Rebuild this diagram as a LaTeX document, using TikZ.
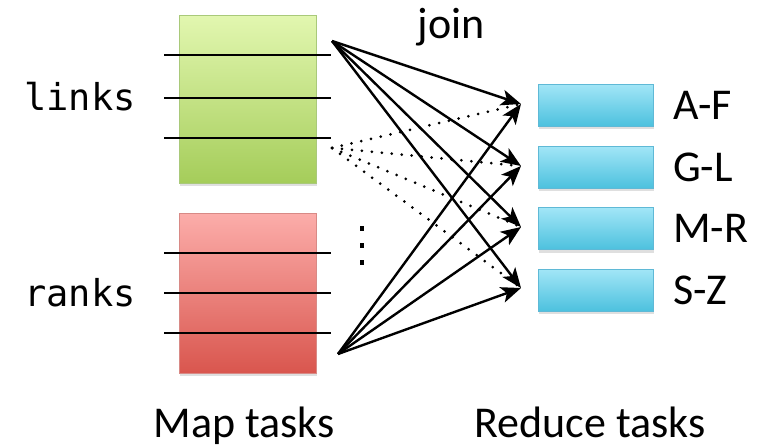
\documentclass[tikz,border=0pt]{standalone}
\usepackage{fontspec}
\setmainfont{Carlito}
\newfontfamily\monof{DejaVu Sans Mono}
\usetikzlibrary{arrows.meta,shadows}
\begin{document}
\begin{tikzpicture}[x=1pt,y=-1pt,
  lbl/.style={font=\fontsize{44}{52}\selectfont, inner sep=0pt, text=black},
  mono/.style={font=\monof\fontsize{37}{44}\selectfont, inner sep=0pt},
  mapbox/.style={draw, line width=0.8pt, minimum width=137pt, inner sep=0pt,
    drop shadow={shadow xshift=1pt, shadow yshift=-3pt, opacity=0.25}},
  redbox/.style={draw, line width=0.8pt, minimum width=115pt, minimum height=42pt, inner sep=0pt,
    drop shadow={shadow xshift=1pt, shadow yshift=-3pt, opacity=0.25}},
  sep/.style={line width=2.6pt, black},
  arr/.style={line width=2.4pt, -{Stealth[length=20pt, width=16pt, inset=5pt]}},
  dots/.style={line width=3pt, line cap=round, dash pattern=on 0pt off 10pt}
]
\useasboundingbox (0,0) rectangle (757,447);
\definecolor{gtop}{HTML}{E2F7B0}\definecolor{gbot}{HTML}{A5CD5A}\definecolor{gedge}{HTML}{A9C97A}
\definecolor{rtop}{HTML}{FCADAA}\definecolor{rbot}{HTML}{D9564E}\definecolor{redge}{HTML}{D88A86}
\definecolor{btop}{HTML}{A2E6F7}\definecolor{bbot}{HTML}{4DC1DE}\definecolor{bedge}{HTML}{5FB9D6}

% map boxes
\node[mapbox, draw=gedge, top color=gtop, bottom color=gbot, minimum height=168pt] (links) at (247.5,99) {};
\node[mapbox, draw=redge, top color=rtop, bottom color=rbot, minimum height=160pt] (ranks) at (247.5,293) {};

% separator lines
\foreach \y in {55,98,138,253,293,333}
  \draw[sep] (164,\y) -- (331,\y);

% reduce boxes
\node[redbox, draw=bedge, top color=btop, bottom color=bbot] (r1) at (595.5,105) {};
\node[redbox, draw=bedge, top color=btop, bottom color=bbot] (r2) at (595.5,167) {};
\node[redbox, draw=bedge, top color=btop, bottom color=bbot] (r3) at (595.5,228.5) {};
\node[redbox, draw=bedge, top color=btop, bottom color=bbot] (r4) at (595.5,290) {};

% labels
\node[lbl, anchor=west] (lA) at (673,105) {A-F};
\node[lbl, anchor=west] (lG) at (673,167) {G-L};
\node[lbl, anchor=west] (lM) at (673,228.5) {M-R};
\node[lbl, anchor=west] (lS) at (673,290) {S-Z};
\node[lbl] (join) at (451,27) {join};
\node[lbl, anchor=base] (mt) at (244,437) {Map tasks};
\node[lbl, anchor=base] (rt) at (590,437) {Reduce tasks};
\node[mono, anchor=base] (lk) at (80,110) {links};
\node[mono, anchor=base] (rk) at (80,306) {ranks};

% vertical ellipsis
\foreach \y in {228,245,262}
  \fill (359.5,\y-2) rectangle (364,\y+2.5);

% sources and targets
\coordinate (s1) at (332,41);
\coordinate (s2) at (332,148);
\coordinate (s3) at (338,354);
\coordinate (t1) at (521,104);
\coordinate (t2) at (521,166);
\coordinate (t3) at (521,227);
\coordinate (t4) at (521,288);

\foreach \t in {t1,t2,t3,t4} {
  \draw[dots] (s2) -- (\t);
}
\foreach \t in {t1,t2,t3,t4} {
  \draw[arr] (s1) -- (\t);
  \draw[arr] (s3) -- (\t);
}
\end{tikzpicture}
\end{document}
